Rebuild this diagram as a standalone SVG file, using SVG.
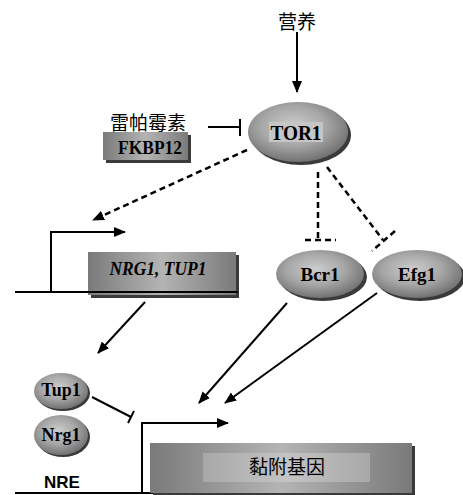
<svg xmlns="http://www.w3.org/2000/svg" width="463" height="495" viewBox="0 0 463 495">
<defs>
<radialGradient id="eg" cx="0.45" cy="0.4" r="0.6">
<stop offset="0" stop-color="#cdcdcd"/>
<stop offset="0.55" stop-color="#a6a6a6"/>
<stop offset="1" stop-color="#727272"/>
</radialGradient>
<linearGradient id="bg" x1="0" y1="0" x2="1" y2="0">
<stop offset="0" stop-color="#7a7a7a"/>
<stop offset="0.5" stop-color="#b4b4b4"/>
<stop offset="1" stop-color="#7a7a7a"/>
</linearGradient>
<linearGradient id="lg" x1="0" y1="0" x2="1" y2="0">
<stop offset="0" stop-color="#a8a8a8"/>
<stop offset="0.5" stop-color="#c4c4c4"/>
<stop offset="1" stop-color="#a8a8a8"/>
</linearGradient>
<marker id="ah" markerWidth="12" markerHeight="10" refX="11" refY="5" orient="auto" markerUnits="userSpaceOnUse">
<path d="M0,0 L12,5 L0,10 Z" fill="#000"/>
</marker>
<style>
.ln{stroke:#000;stroke-width:2;fill:none}
.ds{stroke:#000;stroke-width:2.5;fill:none;stroke-dasharray:6,4}
.sh{fill:#3a3a3a}
.el{fill:url(#eg)}
.bx{fill:url(#bg)}
.lbl{font-family:"Liberation Serif",serif;font-weight:bold;fill:#000;text-anchor:middle}
.cjk{font-family:"Noto Sans CJK SC",sans-serif;fill:#000;text-anchor:middle}
</style>
</defs>
<rect width="463" height="495" fill="#fff"/>

<g id="connectors">
<line class="ln" x1="297" y1="32" x2="297" y2="92" marker-end="url(#ah)"/>
<line class="ln" x1="208" y1="127" x2="240" y2="127"/>
<line class="ln" x1="240" y1="119" x2="240" y2="136"/>
<line class="ds" x1="247" y1="150" x2="93" y2="220" marker-end="url(#ah)"/>
<line class="ds" x1="318" y1="172" x2="318" y2="240"/>
<line class="ds" x1="305" y1="240" x2="336" y2="240" stroke-dasharray="5,3"/>
<line class="ds" x1="327" y1="167" x2="383" y2="240"/>
<line class="ds" x1="395" y1="231" x2="372" y2="251" stroke-dasharray="5,3"/>
<line class="ln" x1="145" y1="302" x2="98" y2="353" marker-end="url(#ah)"/>
<line class="ln" x1="287" y1="303" x2="199" y2="403" marker-end="url(#ah)"/>
<line class="ln" x1="377" y1="293" x2="225" y2="403" marker-end="url(#ah)"/>
<line class="ln" x1="92" y1="397" x2="131" y2="417"/>
<line class="ln" x1="134" y1="411" x2="128" y2="423"/>
</g>

<g id="nutrient"><text class="cjk" x="297" y="29" font-size="19">营养</text></g>
<g id="rapamycin"><text class="cjk" x="148" y="130" font-size="19">雷帕霉素</text></g>

<g id="fkbp12">
<rect class="sh" x="106" y="135" width="85" height="28"/>
<rect class="bx" x="103" y="132" width="85" height="28"/>
<text class="lbl" x="150" y="154" font-size="19" textLength="64" lengthAdjust="spacingAndGlyphs">FKBP12</text>
</g>

<g id="tor1">
<ellipse class="sh" cx="301" cy="135" rx="50" ry="30"/>
<ellipse class="el" cx="298" cy="132" rx="50" ry="30"/>
<rect x="269" y="122" width="54" height="20" fill="#c6c6c6"/>
<text class="lbl" x="296" y="139.500" font-size="21" textLength="51" lengthAdjust="spacingAndGlyphs">TOR1</text>
</g>

<g id="promoter1">
<line class="ln" x1="15" y1="292" x2="238" y2="292"/>
<polyline class="ln" points="51,292 51,232 125,232" marker-end="url(#ah)"/>
</g>

<g id="nrg1tup1">
<rect class="sh" x="91" y="255" width="148" height="43"/>
<rect class="bx" x="88" y="252" width="148" height="43"/>
<line class="ln" x1="88" y1="292" x2="238" y2="292"/>
<text class="lbl" x="158" y="275" font-size="19" font-style="italic" textLength="97" lengthAdjust="spacingAndGlyphs">NRG1, TUP1</text>
</g>

<g id="bcr1">
<ellipse class="sh" cx="323" cy="277" rx="44" ry="24"/>
<ellipse class="el" cx="320" cy="274" rx="44" ry="24"/>
<text class="lbl" x="320" y="281" font-size="19">Bcr1</text>
</g>

<g id="efg1">
<ellipse class="sh" cx="420" cy="277" rx="45" ry="24"/>
<ellipse class="el" cx="417" cy="274" rx="45" ry="24"/>
<text class="lbl" x="417" y="281" font-size="19">Efg1</text>
</g>

<g id="tup1">
<ellipse class="sh" cx="63" cy="393" rx="27" ry="18"/>
<ellipse class="el" cx="61" cy="391" rx="27" ry="18"/>
<text class="lbl" x="61" y="396" font-size="18">Tup1</text>
</g>

<g id="nrg1">
<ellipse class="sh" cx="63" cy="437" rx="27" ry="20"/>
<ellipse class="el" cx="61" cy="435" rx="27" ry="20"/>
<text class="lbl" x="61" y="441" font-size="18">Nrg1</text>
</g>

<g id="nre"><text x="62" y="488" font-family="Liberation Sans,Arial,sans-serif" font-weight="bold" font-size="17" text-anchor="middle">NRE</text></g>

<g id="promoter2">
<line class="ln" x1="15" y1="493" x2="415" y2="493"/>
<polyline class="ln" points="142,493 142,423 228,423" marker-end="url(#ah)"/>
</g>

<g id="adhesion">
<rect class="sh" x="153" y="446" width="262" height="49"/>
<rect class="bx" x="150" y="443" width="262" height="50"/>
<rect x="203" y="453" width="167" height="29" fill="url(#lg)"/>
<text class="cjk" x="287" y="474" font-size="19">黏附基因</text>
</g>
</svg>
